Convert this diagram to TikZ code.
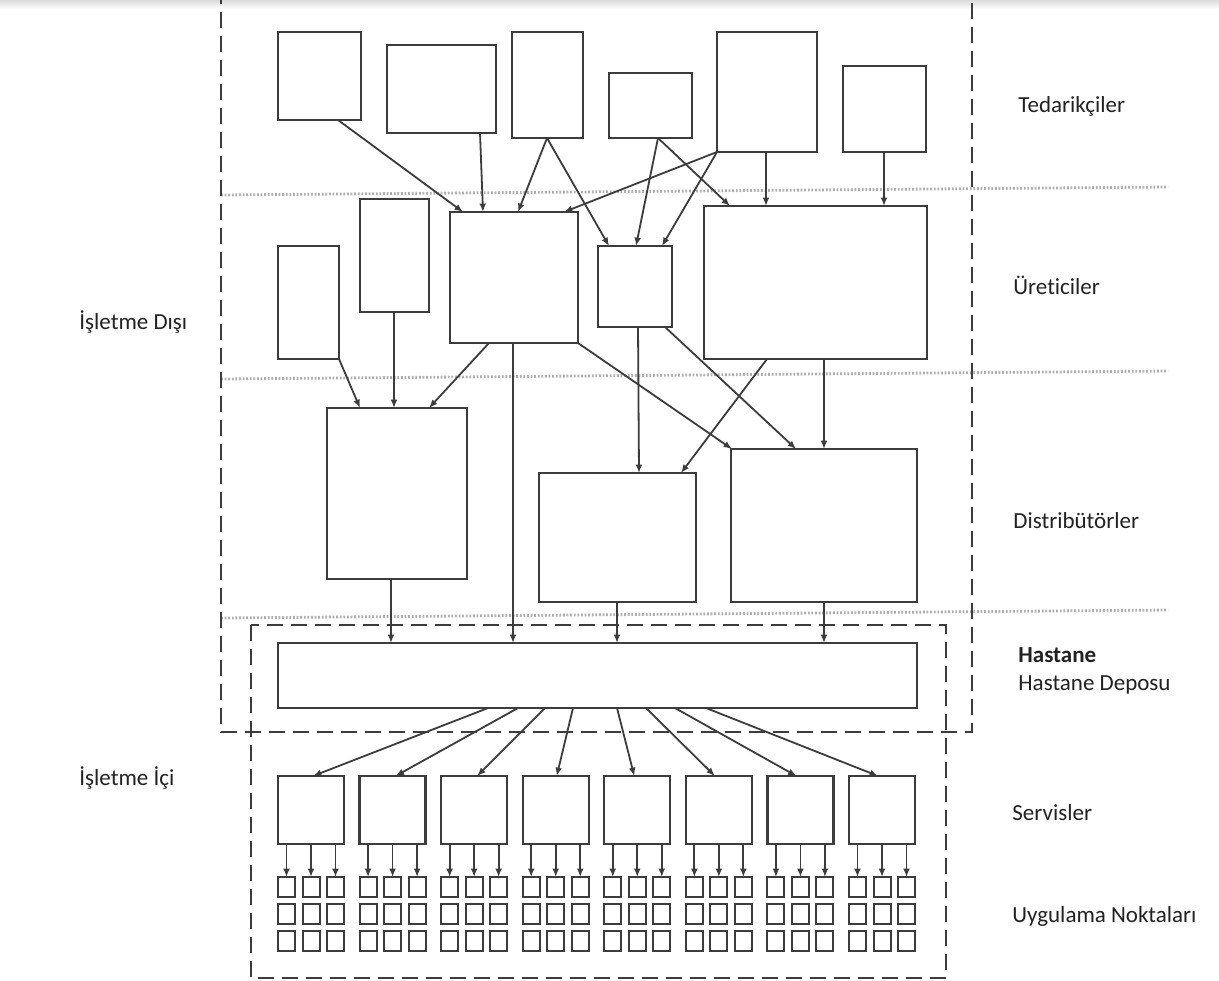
\documentclass[tikz,border=0pt]{standalone}
\usepackage{fontspec}
\setmainfont{Carlito}[Ligatures={NoCommon}]
\usetikzlibrary{arrows.meta,calc,fit}
\definecolor{ink}{HTML}{3C3C3C}
\definecolor{txt}{HTML}{222222}
\definecolor{dotc}{HTML}{AEAEAE}
\begin{document}
\begin{tikzpicture}[x=0.5pt,y=-0.5pt,
  box/.style={draw=ink, line width=1.1pt, inner sep=0pt, outer sep=0pt},
  cell/.style={draw=ink, line width=1pt, inner sep=0pt, outer sep=0pt},
  flow/.style={draw=ink, line width=0.9pt, -{Latex[length=4.2pt,width=3.4pt]}},
  zone/.style={draw=ink, line width=1.1pt, dash pattern=on 8pt off 4pt},
  tierline/.style={draw=dotc, line width=1.4pt, dash pattern=on 0.9pt off 0.9pt},
  lbl/.style={anchor=base west, inner sep=0pt, text=txt, font=\fontsize{11.5pt}{13pt}\selectfont}]

% canvas
\useasboundingbox (0,0) rectangle (1219,980);
\clip (0,0) rectangle (1219,980);
\fill[white] (0,0) rectangle (1219,980);
\shade[top color=black!14, bottom color=white] (0,0) rectangle (1219,9);

% tier separators
\draw[tierline] (221,195) -- (1168,187);
\draw[tierline] (221,379) -- (1168,371);
\draw[tierline] (221,618) -- (1168,610);

% outside the organisation / inside the hospital
\draw[zone] (221,-12) -- (221,732) -- (972,732) -- (972,-12);
\draw[zone] (251,625) rectangle (946,978);

% suppliers
\node[box, fit={(278,32) (361,120)}] (s1) {};
\node[box, fit={(387,45) (496,133)}] (s2) {};
\node[box, fit={(512,32) (583,138)}] (s3) {};
\node[box, fit={(609,73) (692,138)}] (s4) {};
\node[box, fit={(717,32) (817,152)}] (s5) {};
\node[box, fit={(843,66) (926,152)}] (s6) {};

% manufacturers
\node[box, fit={(278,246) (339,359)}] (m1) {};
\node[box, fit={(360,199) (429,312)}] (m2) {};
\node[box, fit={(450,212) (578,343)}] (m3) {};
\node[box, fit={(598,246) (672,327)}] (m4) {};
\node[box, fit={(704,206) (927,359)}] (m5) {};

% distributors
\node[box, fit={(327,408) (467,579)}] (d1) {};
\node[box, fit={(539,473) (696,602)}] (d2) {};
\node[box, fit={(731,449) (917,602)}] (d3) {};

% hospital store
\node[box, fit={(278,643) (917,708)}] (hd) {};

% suppliers -> manufacturers
\draw[flow] ($(s1.south west)+(60,0)$) -- ($(m3.north west)+(13,0)$);
\draw[flow] ($(s2.south west)+(93,0)$) -- ($(m3.north west)+(33,0)$);
\draw[flow] ($(s3.south west)+(35,0)$) -- ($(m3.north west)+(68,0)$);
\draw[flow] ($(s3.south west)+(35,0)$) -- ($(m4.north west)+(11,0)$);
\draw[flow] ($(s4.south west)+(49,0)$) -- ($(m4.north west)+(38,0)$);
\draw[flow] ($(s4.south west)+(49,0)$) -- ($(m5.north west)+(26,0)$);
\draw[flow] (s5.south west) -- ($(m3.north west)+(114,0)$);
\draw[flow] (s5.south west) -- ($(m4.north west)+(64,0)$);
\draw[flow] ($(s5.south west)+(49,0)$) -- ($(m5.north west)+(62,0)$);
\draw[flow] ($(s6.south west)+(41,0)$) -- ($(m5.north west)+(180,0)$);

% manufacturers -> distributors
\draw[flow] (m1.south east) -- ($(d1.north west)+(33,0)$);
\draw[flow] ($(m2.south west)+(34,0)$) -- ($(d1.north west)+(67,0)$);
\draw[flow] ($(m3.south west)+(39,0)$) -- ($(d1.north west)+(102,0)$);
\draw[flow] ($(m3.south west)+(63,0)$) -- ($(hd.north west)+(235,0)$);
\draw[flow] (m3.south east) -- ($(d3.north west)+(1,0)$);
\draw[flow] ($(m4.south west)+(40,0)$) -- ($(d2.north west)+(100,0)$);
\draw[flow] ($(m4.south west)+(67,0)$) -- ($(d3.north west)+(65,0)$);
\draw[flow] ($(m5.south west)+(63,0)$) -- ($(d2.north west)+(142,0)$);
\draw[flow] ($(m5.south west)+(120,0)$) -- ($(d3.north west)+(93,0)$);

% distributors -> hospital store
\draw[flow] ($(d1.south west)+(64,0)$) -- ($(hd.north west)+(113,0)$);
\draw[flow] ($(d2.south west)+(78,0)$) -- ($(hd.north west)+(339,0)$);
\draw[flow] ($(d3.south west)+(93,0)$) -- ($(hd.north west)+(546,0)$);

% services and their points of use
\foreach \i in {0,...,7} {
  \pgfmathsetmacro\xa{278+81.57*\i}
  \node[box, fit={(\xa,776) (\xa+66,844)}] (sv\i) {};
  \foreach \j in {0,1,2} {
    \foreach \k in {0,1,2} {
      \node[cell, fit={(\xa+24.5*\k,877+27*\j) (\xa+24.5*\k+17,877+27*\j+19.5)}] (p\i\j\k) {};
    }
  }
  \foreach \k in {0,1,2} {
    \draw[flow] (p\i0\k.north |- sv\i.south) -- (p\i0\k.north);
  }
}

% hospital store -> services
\foreach \i/\s/\e in {0/210/35, 1/240/36, 2/267/36, 3/295/34, 4/339/30, 5/368/29, 6/397/29, 7/428/29}
  \draw[flow] ($(hd.south west)+(\s,0)$) -- ($(sv\i.north west)+(\e,0)$);

% labels
\node[lbl] (tTed) at (1018,112) {Tedarikçiler};
\node[lbl] (tUre) at (1013,294) {Üreticiler};
\node[lbl] (tDis) at (1013,528) {Distribütörler};
\node[lbl, font=\fontsize{11.5pt}{13pt}\selectfont\bfseries] (tHas) at (1018,662) {Hastane};
\node[lbl] (tDep) at (1018,690) {Hastane Deposu};
\node[lbl] (tSer) at (1012,820) {Servisler};
\node[lbl] (tUyg) at (1012,922) {Uygulama Noktaları};
\node[lbl] (tOut) at (79,329) {İşletme Dışı};
\node[lbl] (tIn) at (79,785) {İşletme İçi};
\end{tikzpicture}
\end{document}
